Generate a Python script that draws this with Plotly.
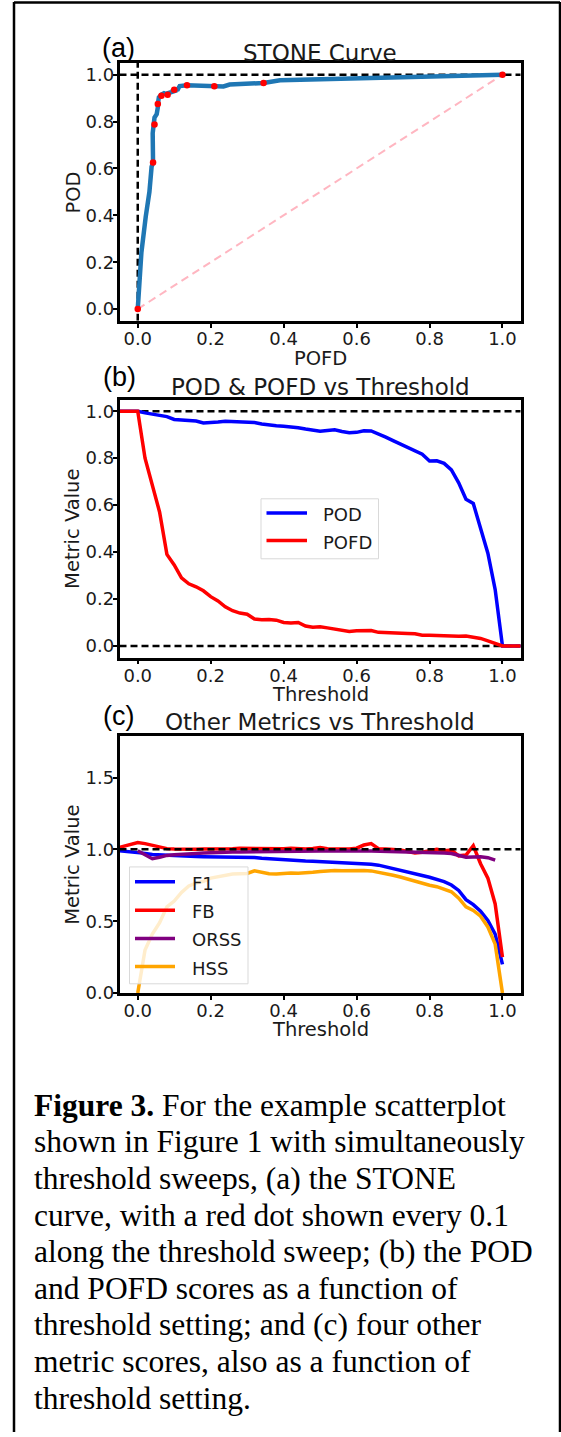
import plotly.graph_objects as go

# ---------------- data ----------------
threshold = [-0.05] + [round(i * 0.02, 2) for i in range(51)] + [1.05]

pod = [1.000,
       1.000, 0.993, 0.987, 0.981, 0.977, 0.965, 0.962, 0.960, 0.958, 0.950,
       0.951, 0.954, 0.957, 0.956, 0.955, 0.955, 0.952, 0.946, 0.941, 0.938,
       0.936, 0.934, 0.930, 0.924, 0.920, 0.915, 0.918, 0.921, 0.914, 0.908,
       0.910, 0.917, 0.916, 0.904, 0.890, 0.875, 0.860, 0.847, 0.832, 0.817,
       0.788, 0.789, 0.778, 0.750, 0.695, 0.625, 0.607, 0.500, 0.395, 0.240,
       0.000,
       0.000]

pofd = [1.000,
        1.000, 0.800, 0.690, 0.570, 0.390, 0.345, 0.290, 0.265, 0.252, 0.235,
        0.210, 0.192, 0.167, 0.150, 0.140, 0.135, 0.115, 0.112, 0.113, 0.110,
        0.100, 0.098, 0.100, 0.085, 0.080, 0.082, 0.077, 0.072, 0.064, 0.062,
        0.065, 0.066, 0.066, 0.058, 0.056, 0.055, 0.055, 0.053, 0.052, 0.046,
        0.046, 0.044, 0.043, 0.041, 0.041, 0.042, 0.038, 0.032, 0.022, 0.010,
        0.000,
        0.000]

f1 = [0.990,
      0.979, 0.972, 0.964, 0.961, 0.959, 0.957, 0.955, 0.952, 0.950, 0.949,
      0.948, 0.949, 0.949, 0.948, 0.947, 0.945, 0.943, 0.938, 0.934, 0.930,
      0.927, 0.925, 0.922, 0.919, 0.917, 0.915, 0.914, 0.912, 0.908, 0.905,
      0.903, 0.901, 0.897, 0.890, 0.877, 0.866, 0.855, 0.842, 0.830, 0.818,
      0.806, 0.792, 0.775, 0.752, 0.714, 0.650, 0.615, 0.570, 0.505, 0.410,
      0.200,
      None]

fb = [1.014,
      1.048, 1.040, 1.028, 1.015, 1.005, 1.002, 1.000, 1.002, 1.001, 1.003,
      1.005, 1.004, 1.006, 1.005, 1.007, 1.006, 1.005, 1.007, 1.004, 1.006,
      1.005, 1.007, 1.004, 1.003, 1.006, 1.012, 1.004, 1.002, 1.006, 1.002,
      1.008, 1.030, 1.040, 1.005, 1.002, 1.000, 0.995, 0.985, 0.975, 0.980,
      0.990, 1.000, 0.990, 0.995, 0.955, 0.960, 1.025, 0.900, 0.800, 0.620,
      0.250,
      None]

orss = [None,
        0.990, 0.965, 0.935, 0.945, 0.958, 0.963, 0.968, 0.970, 0.972, 0.974,
        0.977, 0.978, 0.980, 0.981, 0.982, 0.983, 0.984, 0.985, 0.985, 0.986,
        0.987, 0.987, 0.988, 0.988, 0.988, 0.988, 0.988, 0.989, 0.989, 0.988,
        0.989, 0.988, 0.988, 0.987, 0.986, 0.985, 0.984, 0.982, 0.980, 0.979,
        0.978, 0.976, 0.974, 0.971, 0.955, 0.945, 0.946, 0.948, 0.942, 0.925,
        None,
        None]

hss = [None,
       0.000, 0.300, 0.410, 0.490, 0.600, 0.640, 0.700, 0.745, 0.765, 0.778,
       0.800, 0.810, 0.822, 0.829, 0.830, 0.832, 0.850, 0.838, 0.830, 0.828,
       0.833, 0.836, 0.834, 0.836, 0.840, 0.846, 0.850, 0.852, 0.851, 0.853,
       0.852, 0.853, 0.850, 0.842, 0.830, 0.820, 0.808, 0.793, 0.778, 0.764,
       0.750, 0.740, 0.725, 0.705, 0.660, 0.600, 0.575, 0.535, 0.460, 0.340,
       0.000,
       None]

x_ticks = [0.0, 0.2, 0.4, 0.6, 0.8, 1.0]
y_ticks_ab = [0.0, 0.2, 0.4, 0.6, 0.8, 1.0]
y_ticks_c = [0.0, 0.5, 1.0, 1.5]

caption_lines = [
    "<b>Figure 3.</b> For the example scatterplot",
    "shown in Figure 1 with simultaneously",
    "threshold sweeps, (a) the STONE",
    "curve, with a red dot shown every 0.1",
    "along the threshold sweep; (b) the POD",
    "and POFD scores as a function of",
    "threshold setting; and (c) four other",
    "metric scores, also as a function of",
    "threshold setting.",
]

# ---------------- layout helpers ----------------
W, H = 561, 1437


def px(x):
    return x / W


def py(y):
    return 1 - y / H


FONT = "DejaVu Sans"
TXT = "#1a1a1a"
XL, XR = 119.5, 520.7
XRANGE = [-0.05, 1.05]
DASH = "7px,4px"

fig = go.Figure()

# dot indices every 0.1 along the sweep
dot_idx = [i for i, t in enumerate(threshold)
           if 0 <= t <= 1 and abs(t * 10 - round(t * 10)) < 1e-9]

# ---- panel (a) ----
fig.add_trace(go.Scatter(x=XRANGE, y=[1, 1], mode="lines",
                         line=dict(color="black", width=2.5, dash=DASH),
                         xaxis="x", yaxis="y", showlegend=False))
fig.add_trace(go.Scatter(x=[0, 0], y=[-0.05, 1.05], mode="lines",
                         line=dict(color="black", width=2.5, dash=DASH),
                         xaxis="x", yaxis="y", showlegend=False))
fig.add_trace(go.Scatter(x=[0, 1], y=[0, 1], mode="lines",
                         line=dict(color="#ffb6c1", width=2, dash="8px,5px"),
                         xaxis="x", yaxis="y", showlegend=False))
fig.add_trace(go.Scatter(x=pofd, y=pod, mode="lines",
                         line=dict(color="#1f77b4", width=4.5),
                         xaxis="x", yaxis="y", showlegend=False))
fig.add_trace(go.Scatter(x=[pofd[i] for i in dot_idx], y=[pod[i] for i in dot_idx],
                         mode="markers", marker=dict(color="red", size=6.5),
                         xaxis="x", yaxis="y", showlegend=False))

# ---- panel (b) ----
for yv in (1, 0):
    fig.add_trace(go.Scatter(x=XRANGE, y=[yv, yv], mode="lines",
                             line=dict(color="black", width=2.5, dash=DASH),
                             xaxis="x2", yaxis="y2", showlegend=False))
fig.add_trace(go.Scatter(x=threshold, y=pod, mode="lines", name="POD",
                         line=dict(color="blue", width=3.5),
                         xaxis="x2", yaxis="y2", showlegend=False))
fig.add_trace(go.Scatter(x=threshold, y=pofd, mode="lines", name="POFD",
                         line=dict(color="red", width=3.5),
                         xaxis="x2", yaxis="y2", showlegend=False))

# ---- panel (c) ----
series_c = [("F1", f1, "blue"), ("FB", fb, "red"),
            ("ORSS", orss, "purple"), ("HSS", hss, "orange")]
for name, vals, col in series_c:
    fig.add_trace(go.Scatter(x=threshold, y=vals, mode="lines", name=name,
                             line=dict(color=col, width=3.5),
                             xaxis="x3", yaxis="y3", showlegend=False))
fig.add_trace(go.Scatter(x=XRANGE, y=[1, 1], mode="lines",
                         line=dict(color="black", width=2.5, dash=DASH),
                         xaxis="x3", yaxis="y3", showlegend=False))

# ---------------- axes ----------------
ax_common = dict(showline=True, mirror=True, linecolor="black", linewidth=2.5,
                 ticks="outside", ticklen=4, tickwidth=1.5, tickcolor="black",
                 showgrid=False, zeroline=False,
                 tickfont=dict(family=FONT, size=18, color=TXT))

panels = [
    ("xaxis", "yaxis", "y", "x", 63.5, 323, [-0.05, 1.05], y_ticks_ab),
    ("xaxis2", "yaxis2", "y2", "x2", 402.3, 662.3, [-0.05, 1.05], y_ticks_ab),
    ("xaxis3", "yaxis3", "y3", "x3", 741, 1000, [0, 1.79], y_ticks_c),
]
layout_axes = {}
for xa, ya, yref, xref, top, bot, yr, yt in panels:
    layout_axes[xa] = dict(ax_common, domain=[px(XL), px(XR)], range=XRANGE,
                           tickvals=x_ticks, ticktext=[f"{v:.1f}" for v in x_ticks],
                           anchor=yref, ticklabelstandoff=-4)
    layout_axes[ya] = dict(ax_common, domain=[py(bot), py(top)], range=yr,
                           tickvals=yt, ticktext=[f"{v:.1f}" for v in yt],
                           anchor=xref, ticklabelstandoff=-5)

# ---------------- text annotations ----------------
ann = []


def text(x, y, s, size, family=FONT, xanchor="center", yanchor="middle",
         angle=0, color=TXT, dy=None):
    if dy is None:
        dy = 0.12 * size
    if angle:
        x = x + dy
    else:
        y = y + dy
    ann.append(dict(x=px(x), y=py(y), xref="paper", yref="paper", text=s,
                    showarrow=False, xanchor=xanchor, yanchor=yanchor,
                    textangle=angle,
                    font=dict(family=family, size=size, color=color)))


XC = (XL + XR) / 2
LBL = "Liberation Sans Narrow, Liberation Sans"
# panel a
text(118, 47, "(a)", 27, family=LBL, color="black", dy=1)
text(XC, 52, "STONE Curve", 23, dy=1.5)
text(71.6, 194, "POD", 19.5, angle=-90)
text(XC, 359, "POFD", 19.5)
# panel b
text(119, 379, "(b)", 27, family=LBL, color="black", dy=1)
text(XC, 388, "POD &amp; POFD vs Threshold", 23, dy=1.5)
text(70, 532.3, "Metric Value", 19.5, angle=-90)
text(XC, 697, "Threshold", 19.5)
# panel c
text(118.5, 720, "(c)", 27, family=LBL, color="black", dy=1)
text(XC, 726, "Other Metrics vs Threshold", 23, dy=1.5)
text(70, 870.5, "Metric Value", 19.5, angle=-90)
text(XC, 1034, "Threshold", 19.5)

# ---------------- manual legends ----------------
shapes = []


def rect(x0, y0, x1, y1, **kw):
    shapes.append(dict(type="rect", xref="paper", yref="paper",
                       x0=px(x0), x1=px(x1), y0=py(y1), y1=py(y0), **kw))


def seg(x0, y0, x1, y1, color, width):
    shapes.append(dict(type="line", xref="paper", yref="paper",
                       x0=px(x0), x1=px(x1), y0=py(y0), y1=py(y1),
                       line=dict(color=color, width=width)))


# legend b
rect(261, 502.3, 378.5, 562.7, fillcolor="rgba(255,255,255,0.8)",
     line=dict(color="#d9d9d9", width=1))
for (nm, col), yy in zip([("POD", "blue"), ("POFD", "red")], [516.7, 544.3]):
    seg(266.5, yy, 307, yy, col, 3.5)
    text(321, yy, nm, 18, xanchor="left", dy=1.5)

# legend c
rect(129.5, 873, 248, 990.7, fillcolor="rgba(255,255,255,0.8)",
     line=dict(color="#d9d9d9", width=1))
for (nm, _, col), yy in zip(series_c, [888, 916.7, 945, 973.3]):
    seg(135, yy, 175, yy, col, 3.5)
    text(190, yy, nm, 18, xanchor="left", dy=1.5)

# outer frame (open at the bottom, like the reference crop)
seg(14, 2, 14, H + 5, "black", 2.5)
seg(14, 2.5, 560, 2.5, "black", 2.5)
seg(560, 2, 560, H + 5, "black", 2.5)

# caption
for i, line in enumerate(caption_lines):
    text(32, 1116 + 36.85 * i - 9, line, 31.5,
         family="Liberation Serif, Times New Roman, serif",
         xanchor="left", color="black", dy=6)

fig.update_layout(width=W, height=H, margin=dict(l=0, r=0, t=0, b=0),
                  paper_bgcolor="white", plot_bgcolor="white",
                  showlegend=False, annotations=ann, shapes=shapes,
                  **layout_axes)

fig.write_html("out.html")
